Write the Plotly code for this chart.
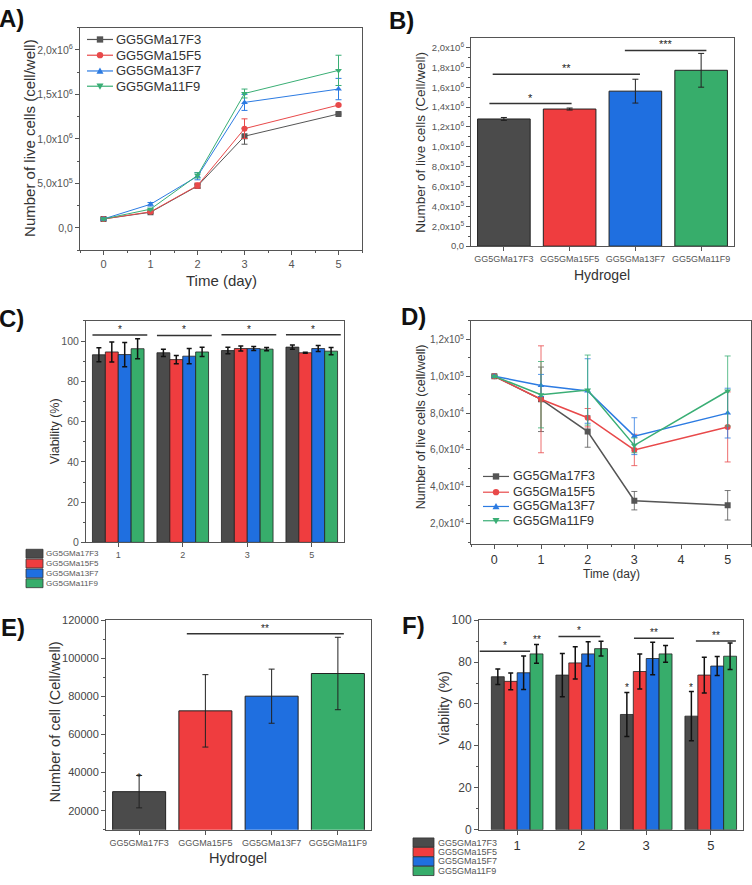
import plotly.graph_objects as go

W, H = 752, 885
FONT = "Liberation Sans, Arial, sans-serif"
AX = "#555555"
TXT = "#333333"


def px(x):
    return x / W


def py(y):
    return 1 - y / H


# ---------------- shared ----------------
hydrogels = ["GG5GMa17F3", "GG5GMa15F5", "GG5GMa13F7", "GG5GMa11F9"]
bar_colors = ["#4b4b4b", "#ef3d3f", "#1f6fe0", "#37ad6b"]
line_colors = ["#555555", "#e8494a", "#2c7be2", "#3aae75"]
symbols = ["square", "circle", "triangle-up", "triangle-down"]

# ---------------- panel A ----------------
days_a = [0, 1, 2, 3, 5]
a_17F3 = [0.10e6, 0.175e6, 0.47e6, 1.03e6, 1.28e6]
a_15F5 = [0.10e6, 0.18e6, 0.475e6, 1.115e6, 1.38e6]
a_13F7 = [0.10e6, 0.265e6, 0.58e6, 1.41e6, 1.56e6]
a_11F9 = [0.10e6, 0.21e6, 0.59e6, 1.51e6, 1.77e6]
a_err_17F3 = [0.01e6, 0.01e6, 0.02e6, 0.09e6, 0.01e6]
a_err_15F5 = [0.01e6, 0.01e6, 0.03e6, 0.11e6, 0.01e6]
a_err_13F7 = [0.01e6, 0.02e6, 0.04e6, 0.09e6, 0.12e6]
a_err_11F9 = [0.01e6, 0.01e6, 0.03e6, 0.05e6, 0.17e6]
a_ticks = [0, 0.5e6, 1.0e6, 1.5e6, 2.0e6]
a_ticktext = ["0,0", "5,0x10<sup>5</sup>", "1,0x10<sup>6</sup>",
              "1,5x10<sup>6</sup>", "2,0x10<sup>6</sup>"]

# ---------------- panel B ----------------
b_means = [1.28e6, 1.38e6, 1.56e6, 1.77e6]
b_err = [0.015e6, 0.01e6, 0.12e6, 0.17e6]
b_ticks = [0, 0.2e6, 0.4e6, 0.6e6, 0.8e6, 1.0e6, 1.2e6, 1.4e6, 1.6e6, 1.8e6, 2.0e6]
b_ticktext = ["0,0", "2,0x10<sup>5</sup>", "4,0x10<sup>5</sup>", "6,0x10<sup>5</sup>",
              "8,0x10<sup>5</sup>", "1,0x10<sup>6</sup>", "1,2x10<sup>6</sup>",
              "1,4x10<sup>6</sup>", "1,6x10<sup>6</sup>", "1,8x10<sup>6</sup>",
              "2,0x10<sup>6</sup>"]
b_sig_x0 = [-0.22, -0.17, 1.84]
b_sig_x1 = [1.03, 2.07, 3.08]
b_sig_y = [1.435e6, 1.73e6, 1.97e6]
b_sig_txt = ["*", "**", "***"]

# ---------------- panel C ----------------
days_c = ["1", "2", "3", "5"]
c_17F3 = [93.2, 94.2, 95.3, 97.0]
c_15F5 = [94.6, 90.8, 96.3, 94.2]
c_13F7 = [93.3, 92.5, 96.3, 96.3]
c_11F9 = [96.2, 94.6, 96.0, 95.0]
c_err_17F3 = [3.5, 1.8, 1.6, 1.0]
c_err_15F5 = [5.0, 2.0, 1.2, 0.3]
c_err_13F7 = [6.0, 3.8, 1.0, 1.5]
c_err_11F9 = [5.0, 2.3, 0.8, 1.8]
c_sig_y = [103.0, 102.8, 103.2, 103.2]

# ---------------- panel D ----------------
days_d = [0, 1, 2, 3, 5]
d_17F3 = [1.0e5, 8.75e4, 7.0e4, 3.25e4, 3.0e4]
d_15F5 = [1.0e5, 8.75e4, 7.75e4, 6.0e4, 7.25e4]
d_13F7 = [1.0e5, 9.5e4, 9.2e4, 6.75e4, 8.0e4]
d_11F9 = [1.0e5, 9.0e4, 9.25e4, 6.25e4, 9.2e4]
d_err_17F3 = [0.05e4, 1.75e4, 0.85e4, 0.5e4, 0.8e4]
d_err_15F5 = [0.05e4, 2.9e4, 0.5e4, 0.85e4, 1.9e4]
d_err_13F7 = [0.05e4, 0.6e4, 1.75e4, 1.0e4, 1.35e4]
d_err_11F9 = [0.05e4, 1.8e4, 1.9e4, 0.4e4, 1.9e4]
d_ticks = [2e4, 4e4, 6e4, 8e4, 1.0e5, 1.2e5]
d_ticktext = ["2,0x10<sup>4</sup>", "4,0x10<sup>4</sup>", "6,0x10<sup>4</sup>",
              "8,0x10<sup>4</sup>", "1,0x10<sup>5</sup>", "1,2x10<sup>5</sup>"]

# ---------------- panel E ----------------
e_labels = ["GG5GMa17F3", "GGGMa15F5", "GG5GMa13F7", "GG5GMa11F9"]
e_means = [30000, 72400, 80100, 92000]
e_err = [8500, 19000, 14200, 19000]

# ---------------- panel F ----------------
days_f = ["1", "2", "3", "5"]
f_names = ["GG5GMa17F3", "GG5GMa15F5", "GG5GMa15F7", "GG5GMa11F9"]
f_17F3 = [73.0, 73.8, 55.0, 54.2]
f_15F5 = [70.8, 79.6, 75.5, 73.8]
f_13F7 = [74.9, 83.9, 81.7, 78.1]
f_11F9 = [83.9, 86.4, 83.9, 82.8]
f_err_17F3 = [3.7, 10.3, 10.5, 11.7]
f_err_15F5 = [4.0, 7.7, 8.3, 8.5]
f_err_13F7 = [8.0, 5.8, 7.8, 4.5]
f_err_11F9 = [4.5, 3.5, 4.0, 6.3]
f_sig_x0 = [-0.58, 0.64, 1.81, 2.77]
f_sig_x1 = [0.20, 1.29, 2.43, 3.39]
f_sig_y = [85.1, 92.2, 91.4, 90.1]
f_sig_txt = ["*", "*", "**", "**"]

fig = go.Figure()
shapes = []
annos = []
STAR = "#222222"

# ---- A traces
for name, ys, es, c, s in zip(hydrogels, [a_17F3, a_15F5, a_13F7, a_11F9],
                               [a_err_17F3, a_err_15F5, a_err_13F7, a_err_11F9],
                               line_colors, symbols):
    fig.add_trace(go.Scatter(
        x=days_a, y=ys, name=name, mode="lines+markers",
        line=dict(color=c, width=1), marker=dict(symbol=s, size=6, color=c),
        error_y=dict(type="data", array=es, color=c, thickness=1, width=3),
        xaxis="x", yaxis="y", showlegend=False))

# ---- B traces
fig.add_trace(go.Bar(
    x=hydrogels, y=b_means, marker=dict(color=bar_colors, line=dict(color="#222222", width=1)),
    error_y=dict(type="data", array=b_err, color="#222222", thickness=1, width=3),
    xaxis="x2", yaxis="y2", showlegend=False))
for x0, x1, yv, t in zip(b_sig_x0, b_sig_x1, b_sig_y, b_sig_txt):
    shapes.append(dict(type="line", xref="x2", yref="y2", x0=x0, x1=x1, y0=yv, y1=yv,
                       line=dict(color="#333333", width=1.5)))
    annos.append(dict(xref="x2", yref="y2", x=(x0 + x1) / 2, y=yv, text=t, showarrow=False,
                      yanchor="bottom", yshift=-2, font=dict(family=FONT, size=11, color=STAR)))

# ---- C traces
for name, ys, es, c in zip(hydrogels, [c_17F3, c_15F5, c_13F7, c_11F9],
                           [c_err_17F3, c_err_15F5, c_err_13F7, c_err_11F9], bar_colors):
    fig.add_trace(go.Bar(
        x=days_c, y=ys, name=name, marker=dict(color=c, line=dict(color="#222222", width=0.8)),
        error_y=dict(type="data", array=es, color="#111111", thickness=1.5, width=2.5),
        xaxis="x3", yaxis="y3", showlegend=False))
for i, yv in enumerate(c_sig_y):
    shapes.append(dict(type="line", xref="x3", yref="y3", x0=i - 0.4, x1=i + 0.45, y0=yv, y1=yv,
                       line=dict(color="#333333", width=1.5)))
    annos.append(dict(xref="x3", yref="y3", x=i + 0.02, y=yv, text="*", showarrow=False,
                      yanchor="bottom", yshift=-2, font=dict(family=FONT, size=10, color=STAR)))

# ---- D traces
for name, ys, es, c, s in zip(hydrogels, [d_17F3, d_15F5, d_13F7, d_11F9],
                               [d_err_17F3, d_err_15F5, d_err_13F7, d_err_11F9],
                               line_colors, symbols):
    fig.add_trace(go.Scatter(
        x=days_d, y=ys, name=name, mode="lines+markers",
        line=dict(color=c, width=1.5), marker=dict(symbol=s, size=6, color=c),
        error_y=dict(type="data", array=es, color=c, thickness=0.8, width=3),
        xaxis="x4", yaxis="y4", showlegend=False))

# ---- E traces
fig.add_trace(go.Bar(
    x=e_labels, y=e_means, marker=dict(color=bar_colors, line=dict(color="#222222", width=1)),
    error_y=dict(type="data", array=e_err, color="#222222", thickness=1, width=3),
    xaxis="x5", yaxis="y5", showlegend=False))
shapes.append(dict(type="line", xref="x5", yref="y5", x0=0.72, x1=3.09, y0=112800, y1=112800,
                   line=dict(color="#333333", width=1.5)))
annos.append(dict(xref="x5", yref="y5", x=1.9, y=112800, text="**", showarrow=False,
                  yanchor="bottom", yshift=-2, font=dict(family=FONT, size=10, color=STAR)))
annos.append(dict(xref="x5", yref="y5", x=0, y=e_means[0] + e_err[0], text="*", showarrow=False,
                  yanchor="middle", yshift=-2, font=dict(family=FONT, size=10, color=STAR)))

# ---- F traces
for name, ys, es, c in zip(f_names, [f_17F3, f_15F5, f_13F7, f_11F9],
                           [f_err_17F3, f_err_15F5, f_err_13F7, f_err_11F9], bar_colors):
    fig.add_trace(go.Bar(
        x=days_f, y=ys, name=name, marker=dict(color=c, line=dict(color="#222222", width=0.8)),
        error_y=dict(type="data", array=es, color="#111111", thickness=1.5, width=2.5),
        xaxis="x6", yaxis="y6", showlegend=False))
for x0, x1, yv, t in zip(f_sig_x0, f_sig_x1, f_sig_y, f_sig_txt):
    shapes.append(dict(type="line", xref="x6", yref="y6", x0=x0, x1=x1, y0=yv, y1=yv,
                       line=dict(color="#333333", width=1.5)))
    annos.append(dict(xref="x6", yref="y6", x=(x0 + x1) / 2, y=yv, text=t, showarrow=False,
                      yanchor="bottom", yshift=-2, font=dict(family=FONT, size=10, color=STAR)))
annos.append(dict(xref="x6", yref="y6", x=0.3, y=f_11F9[0] + f_err_11F9[0], text="**",
                  showarrow=False, yanchor="bottom", yshift=-3,
                  font=dict(family=FONT, size=10, color=STAR)))
for gi in [2, 3]:
    annos.append(dict(xref="x6", yref="y6", x=gi - 0.3, y=f_17F3[gi] + f_err_17F3[gi], text="*",
                      showarrow=False, yanchor="bottom", yshift=-3,
                      font=dict(family=FONT, size=10, color=STAR)))


# ---- custom legends for the line panels (A, D)
def pt(x, y):
    return "%.6f,%.6f" % (px(x), py(y))


def legend_marker(sym, cx, cy, r, color):
    if sym == "square":
        shapes.append(dict(type="rect", xref="paper", yref="paper", x0=px(cx - r), x1=px(cx + r),
                           y0=py(cy + r), y1=py(cy - r), fillcolor=color, line=dict(width=0)))
    elif sym == "circle":
        shapes.append(dict(type="circle", xref="paper", yref="paper", x0=px(cx - r), x1=px(cx + r),
                           y0=py(cy + r), y1=py(cy - r), fillcolor=color, line=dict(width=0)))
    elif sym == "triangle-up":
        path = "M %s L %s L %s Z" % (pt(cx - r * 1.1, cy + r * 0.9), pt(cx + r * 1.1, cy + r * 0.9),
                                      pt(cx, cy - r * 1.1))
        shapes.append(dict(type="path", xref="paper", yref="paper", path=path, fillcolor=color,
                           line=dict(width=0)))
    else:
        path = "M %s L %s L %s Z" % (pt(cx - r * 1.1, cy - r * 0.9), pt(cx + r * 1.1, cy - r * 0.9),
                                      pt(cx, cy + r * 1.1))
        shapes.append(dict(type="path", xref="paper", yref="paper", path=path, fillcolor=color,
                           line=dict(width=0)))


def line_legend(x_line0, x_line1, x_text, ys, size):
    for name, c, s, yc in zip(hydrogels, line_colors, symbols, ys):
        shapes.append(dict(type="line", xref="paper", yref="paper", x0=px(x_line0), x1=px(x_line1),
                           y0=py(yc), y1=py(yc), line=dict(color=c, width=1.2)))
        legend_marker(s, (x_line0 + x_line1) / 2, yc, 3.2, c)
        annos.append(dict(xref="paper", yref="paper", x=px(x_text), y=py(yc), text=name,
                          showarrow=False, xanchor="left", yanchor="middle",
                          font=dict(family=FONT, size=size, color=TXT)))


line_legend(87, 113, 114, [33, 49, 65, 80.5], 13)
line_legend(483, 509, 511, [477, 493, 507.5, 522], 12.5)

# ---- custom legends for C and F (rectangular swatches)
for i, (name, c) in enumerate(zip(hydrogels, bar_colors)):
    yc = 555.5 + i * 10
    shapes.append(dict(type="rect", xref="paper", yref="paper", x0=px(26), x1=px(43),
                       y0=py(yc + 4.5), y1=py(yc - 4.5), fillcolor=c,
                       line=dict(color="#333333", width=0.8)))
    annos.append(dict(xref="paper", yref="paper", x=px(44), y=py(yc), text=name, showarrow=False,
                      xanchor="left", yanchor="middle",
                      font=dict(family=FONT, size=8, color="#555555")))
for i, (name, c) in enumerate(zip(f_names, bar_colors)):
    yc = 849 + i * 9.6
    shapes.append(dict(type="rect", xref="paper", yref="paper", x0=px(413), x1=px(434),
                       y0=py(yc + 4.7), y1=py(yc - 4.7), fillcolor=c,
                       line=dict(color="#333333", width=0.8)))
    annos.append(dict(xref="paper", yref="paper", x=px(436), y=py(yc), text=name, showarrow=False,
                      xanchor="left", yanchor="middle",
                      font=dict(family=FONT, size=9, color="#555555")))

# ---- panel letters
for lab, xx, yy in [("A)", 12, 12), ("B)", 402, 14), ("C)", 11, 316),
                    ("D)", 413, 314), ("E)", 13, 630), ("F)", 413, 628)]:
    annos.append(dict(xref="paper", yref="paper", x=px(xx), y=py(yy), text="<b>%s</b>" % lab,
                      showarrow=False, xanchor="center", yanchor="middle",
                      font=dict(family=FONT, size=24, color="#111111")))


# ---- axis titles
def ytitle(text, xx, yy, size):
    annos.append(dict(xref="paper", yref="paper", x=px(xx), y=py(yy), text=text, textangle=-90,
                      showarrow=False, xanchor="center", yanchor="middle",
                      font=dict(family=FONT, size=size, color=TXT)))


def xtitle(text, xx, yy, size):
    annos.append(dict(xref="paper", yref="paper", x=px(xx), y=py(yy), text=text,
                      showarrow=False, xanchor="center", yanchor="middle",
                      font=dict(family=FONT, size=size, color=TXT)))


ytitle("Number of live cells (cell/well)", 30, 133, 15)
xtitle("Time (day)", 221, 278, 15)
ytitle("Number of live cells (Cell/well)", 421, 138, 13.5)
xtitle("Hydrogel", 602, 272, 14)
ytitle("Viability (%)", 55, 431, 12.5)
ytitle("Number of live cells (cell/well)", 421, 427, 12.5)
xtitle("Time (day)", 611, 576, 12)
ytitle("Number of cell (Cell/well)", 55, 727, 14.5)
xtitle("Hydrogel", 238, 865, 14.5)
ytitle("Viability (%)", 444, 712, 14)


def ax(**kw):
    d = dict(showline=True, linecolor=AX, linewidth=1, mirror=True, ticks="outside",
             ticklen=4, tickcolor=AX, showgrid=False, zeroline=False,
             tickfont=dict(family=FONT, size=11, color="#555555"))
    d.update(kw)
    return d


def minor(dt, t0=0):
    return dict(ticks="outside", ticklen=2, tickcolor=AX, tickmode="linear", dtick=dt, tick0=t0,
                showgrid=False)


fig.update_layout(
    width=W, height=H, margin=dict(l=0, r=0, t=0, b=0),
    paper_bgcolor="white", plot_bgcolor="white",
    barmode="group", bargap=0.2, bargroupgap=0,
    font=dict(family=FONT, color=TXT),
    showlegend=False,
    xaxis=ax(domain=[px(80), px(362)], range=[-0.5, 5.5], anchor="y",
             tickvals=[0, 1, 2, 3, 4, 5], minor=minor(0.5)),
    yaxis=ax(domain=[py(247), py(21)], range=[-0.25e6, 2.25e6], anchor="x",
             tickvals=a_ticks, ticktext=a_ticktext, minor=minor(0.25e6),
             tickfont=dict(family=FONT, size=10.5, color="#555555")),
    xaxis2=ax(domain=[px(471), px(734)], anchor="y2", type="category",
              tickfont=dict(family=FONT, size=9, color="#555555")),
    yaxis2=ax(domain=[py(243), py(32)], range=[0, 2.09e6], anchor="x2",
              tickvals=b_ticks, ticktext=b_ticktext, minor=minor(0.1e6),
              tickfont=dict(family=FONT, size=9.5, color="#555555")),
    xaxis3=ax(domain=[px(86), px(344)], anchor="y3", type="category",
              tickfont=dict(family=FONT, size=9, color="#555555")),
    yaxis3=ax(domain=[py(544), py(319)], range=[0, 110], anchor="x3", dtick=20, tick0=0,
              minor=minor(10), tickfont=dict(family=FONT, size=10.5, color="#555555")),
    xaxis4=ax(domain=[px(471), px(751)], range=[-0.5, 5.5], anchor="y4",
              tickvals=[0, 1, 2, 3, 4, 5], minor=minor(0.5),
              tickfont=dict(family=FONT, size=12.5, color="#333333")),
    yaxis4=ax(domain=[py(546), py(319)], range=[0.88e4, 1.3e5], anchor="x4",
              tickvals=d_ticks, ticktext=d_ticktext, minor=minor(1e4),
              tickfont=dict(family=FONT, size=10, color="#555555")),
    xaxis5=ax(domain=[px(106), px(371)], anchor="y5", type="category",
              tickfont=dict(family=FONT, size=9, color="#555555")),
    yaxis5=ax(domain=[py(836), py(623)], range=[10000, 120000], anchor="x5",
              tickvals=[20000, 40000, 60000, 80000, 100000, 120000], tickformat="d",
              minor=minor(10000), tickfont=dict(family=FONT, size=11, color="#444444")),
    xaxis6=ax(domain=[px(479), px(743)], anchor="y6", type="category",
              tickfont=dict(family=FONT, size=13, color="#333333")),
    yaxis6=ax(domain=[py(836), py(623)], range=[0, 100], anchor="x6", dtick=20, tick0=0,
              minor=minor(10), tickfont=dict(family=FONT, size=12, color="#444444")),
    shapes=shapes, annotations=annos,
)

fig.write_html("out.html")
